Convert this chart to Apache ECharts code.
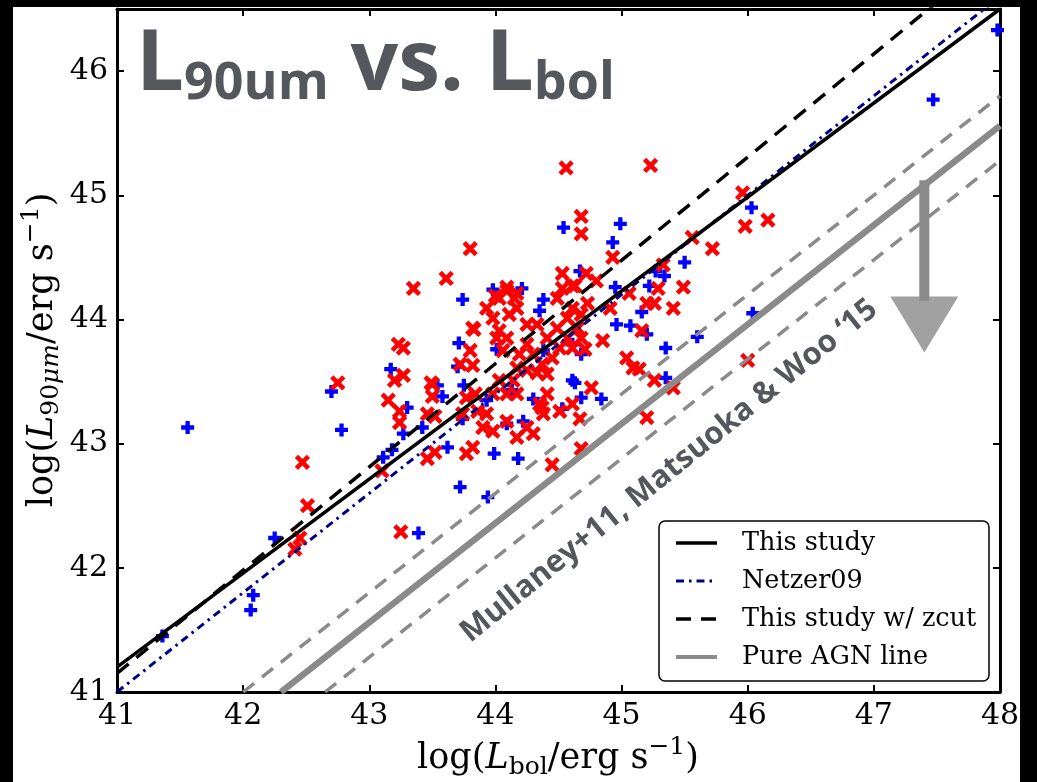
<!DOCTYPE html>
<html>
<head>
<meta charset="utf-8">
<script src="https://cdn.jsdelivr.net/npm/echarts@6/dist/echarts.min.js"></script>
<style>
  html, body { margin: 0; padding: 0; background: #ffffff; }
  #chart { width: 1037px; height: 782px; }
</style>
</head>
<body>
<div id="chart"></div>
<script>
// ---- data -------------------------------------------------------------
const xTicks = [41, 42, 43, 44, 45, 46, 47, 48];
const yTicks = [41, 42, 43, 44, 45, 46];

// sources marked with blue plus signs: [log Lbol, log L90um]
const bluePoints = [
  [41.36,41.45],[41.56,43.13],[42.06,41.66],[42.08,41.78],[42.25,42.24],[42.70,43.42],[42.78,43.11],
  [43.11,42.89],[43.17,43.60],[43.18,42.95],[43.27,43.08],[43.30,43.29],[43.39,42.28],[43.42,43.13],
  [43.54,43.47],[43.58,43.38],[43.62,42.97],[43.72,42.65],[43.94,42.57],[43.71,43.81],[43.70,43.62],
  [43.75,43.47],[43.74,43.20],[43.74,44.16],[43.98,44.24],[44.21,44.25],[44.38,44.16],[44.35,44.07],
  [43.99,42.92],[44.18,42.88],[44.22,43.18],[44.30,43.36],[44.53,43.28],[44.61,43.51],[44.38,43.75],
  [44.61,43.80],[44.01,43.76],[44.13,43.43],[43.93,43.35],[44.09,43.16],[44.54,44.74],[44.67,44.39],
  [44.99,44.77],[44.93,44.62],[44.95,44.26],[45.16,44.06],[45.22,44.27],[45.27,44.39],[45.34,44.35],
  [45.50,44.46],[44.96,43.96],[45.07,43.95],[45.20,43.88],[45.60,43.86],[45.35,43.77],[45.35,43.53],
  [44.63,43.49],[44.68,43.37],[44.84,43.36],[44.68,43.72],[46.03,44.90],[46.04,44.05],[47.47,45.77],
  [47.98,46.33]
];

// sources marked with red crosses: [log Lbol, log L90um]
const redPoints = [
  [42.41,42.15],[42.45,42.24],[42.47,42.85],[42.51,42.50],[42.75,43.49],[43.10,42.78],[43.15,43.35],
  [43.20,43.51],[43.23,43.80],[43.27,43.77],[43.27,43.55],[43.24,43.26],[43.24,43.17],[43.25,42.29],
  [43.35,44.25],[43.46,43.24],[43.46,42.88],[43.49,43.49],[43.50,43.38],[43.52,43.22],[43.52,42.93],
  [43.61,44.33],[43.80,44.57],[43.72,43.64],[43.82,43.63],[43.77,43.37],[43.84,43.40],[43.74,43.24],
  [43.93,43.24],[43.90,43.13],[43.98,43.10],[44.09,43.18],[44.17,43.05],[44.30,43.08],[44.25,43.13],
  [44.38,43.24],[44.35,43.32],[44.41,43.40],[44.41,43.56],[44.33,43.57],[44.25,43.59],[44.17,43.61],
  [44.14,43.51],[44.03,43.51],[44.09,43.40],[43.98,43.40],[44.17,43.40],[44.19,43.72],[44.30,43.72],
  [44.25,43.80],[43.77,42.92],[43.82,42.97],[43.86,43.26],[44.37,43.29],[44.37,43.64],[43.83,43.92],
  [43.80,43.75],[44.09,44.23],[44.15,44.17],[44.17,44.09],[44.03,44.17],[44.11,44.04],[43.93,44.09],
  [43.98,44.01],[43.82,43.93],[44.03,43.91],[44.01,43.85],[44.09,43.85],[44.06,43.75],[44.25,43.96],
  [44.33,43.96],[44.41,43.85],[44.45,43.69],[44.51,43.77],[44.57,43.85],[44.61,43.77],[44.71,43.76],
  [44.68,43.85],[44.65,43.93],[44.49,43.93],[44.57,44.01],[44.68,44.04],[44.61,44.09],[44.49,44.17],
  [44.53,44.25],[44.53,44.37],[44.72,44.37],[44.80,44.31],[44.85,43.83],[44.09,44.26],[44.17,44.21],
  [44.00,44.19],[44.61,44.27],[44.56,45.22],[44.68,44.83],[44.68,44.69],[44.93,44.50],[45.23,45.24],
  [45.56,44.66],[45.72,44.57],[45.96,45.02],[45.98,44.75],[46.16,44.80],[45.49,44.26],[45.41,44.09],
  [45.29,44.25],[45.26,44.13],[45.20,44.13],[45.33,44.44],[45.06,44.21],[44.91,44.09],[44.63,44.27],
  [44.73,44.13],[45.16,43.91],[45.04,43.69],[45.09,43.61],[45.14,43.60],[45.26,43.51],[45.41,43.45],
  [45.20,43.21],[46.00,43.67],[44.45,42.83],[44.68,42.96],[44.76,43.45],[44.61,43.32],[44.67,43.20],
  [44.51,43.26],[43.50,43.48]
];

// relations (end points of each straight line)
const thisStudyLine = [[41, 41.20], [48, 46.50]];
const netzerLine    = [[41, 41.00], [48, 46.60]];
const zcutLine      = [[41, 41.15], [48, 46.97]];
const pureAgnLine   = [[42.30, 41.00], [48, 45.56]];
const agnUpperLine  = [[42.00, 41.00], [48, 45.80]];
const agnLowerLine  = [[42.65, 41.00], [48, 45.28]];
const arrowShaft    = [[47.40, 45.12], [47.40, 44.15]];
const arrowHead     = [[47.40, 43.96]];

const legendLabels = ['This study', 'Netzer09', 'This study w/ zcut', 'Pure AGN line'];
const titleParts = ['L', '90um', ' vs. ', 'L', 'bol'];
const bandLabel = 'Mullaney+11, Matsuoka & Woo \u201815';

// ---- styling ----------------------------------------------------------
const SERIF = '"DejaVu Serif", serif';
const SANS = '"Open Sans", sans-serif';
const TITLE_GRAY = '#54575c';
const LINE_GRAY = '#8a8a8a';
const PLUS_PATH = 'path://M3.35,0H6.65V3.35H10V6.65H6.65V10H3.35V6.65H0V3.35H3.35Z';
const CROSS_PATH = 'path://M3.65,0H6.35V3.65H10V6.35H6.35V10H3.65V6.35H0V3.65H3.65Z';

const chart = echarts.init(document.getElementById('chart'), null, { renderer: 'canvas' });

// text measuring for hand-laid mathematical labels
const mctx = document.createElement('canvas').getContext('2d');
function measure(font, s) { mctx.font = font; return mctx.measureText(s).width; }
function midOffset(font) {
  mctx.font = font;
  mctx.textBaseline = 'alphabetic';
  const a = mctx.measureText('x').actualBoundingBoxAscent;
  mctx.textBaseline = 'middle';
  const b = mctx.measureText('x').actualBoundingBoxAscent;
  mctx.textBaseline = 'alphabetic';
  return a - b;
}
function fontOf(p, family) {
  return (p.italic ? 'italic ' : '') + (p.bold ? 'bold ' : '') + p.size + 'px ' + family;
}
// lays out pieces on a common baseline; returns a group
function mathGroup(pieces, family, opts) {
  let total = 0;
  const widths = pieces.map(p => { const w = measure(fontOf(p, family), p.t); total += w; return w; });
  let cx = opts.anchor === 'center' ? -total / 2 : 0;
  const children = pieces.map((p, i) => {
    const f = fontOf(p, family);
    const el = {
      type: 'text',
      x: cx,
      y: (p.dy || 0) - midOffset(f),
      style: { text: p.t, font: f, fill: opts.color, textAlign: 'left', textVerticalAlign: 'middle' },
      silent: true
    };
    cx += widths[i];
    return el;
  });
  return { type: 'group', x: opts.x, y: opts.y, rotation: opts.rotation || 0, children: children, z: 50 };
}

function lineSeries(data, color, width, type, z) {
  return {
    type: 'line', data: data, showSymbol: false, symbol: 'none', silent: true, z: z || 3,
    lineStyle: { color: color, width: width, type: type || 'solid', cap: 'butt' },
    clip: true, animation: false
  };
}

const axisCommon = {
  type: 'value', min: 41, scale: true,
  axisLine: { show: true, onZero: false, lineStyle: { color: '#000', width: 3 } },
  splitLine: { show: false },
  animation: false
};

const option = {
  animation: false,
  backgroundColor: '#ffffff',
  grid: { left: 117, right: 37, top: 9, bottom: 90, containLabel: false },
  xAxis: [
    Object.assign({}, axisCommon, {
      max: 48, interval: 1, position: 'bottom',
      axisTick: { show: true, inside: true, length: 7, lineStyle: { color: '#000', width: 2 }, customValues: xTicks },
      axisLabel: { show: true, margin: 9, color: '#000', fontFamily: SERIF, fontSize: 30, customValues: xTicks }
    }),
    Object.assign({}, axisCommon, {
      max: 48, interval: 1, position: 'top',
      axisTick: { show: true, inside: true, length: 7, lineStyle: { color: '#000', width: 2 }, customValues: xTicks },
      axisLabel: { show: false }
    })
  ],
  yAxis: [
    Object.assign({}, axisCommon, {
      max: 46.5, interval: 1, position: 'left',
      axisTick: { show: true, inside: true, length: 7, lineStyle: { color: '#000', width: 2 }, customValues: yTicks },
      axisLabel: { show: true, margin: 9, color: '#000', fontFamily: SERIF, fontSize: 30, customValues: yTicks }
    }),
    Object.assign({}, axisCommon, {
      max: 46.5, interval: 1, position: 'right',
      axisTick: { show: true, inside: true, length: 7, lineStyle: { color: '#000', width: 2 }, customValues: yTicks },
      axisLabel: { show: false }
    })
  ],
  series: [
    {
      type: 'scatter', name: 'blue', data: bluePoints, symbol: PLUS_PATH, symbolSize: 13,
      itemStyle: { color: '#0000ff', opacity: 1 }, z: 2, silent: true, animation: false
    },
    {
      type: 'scatter', name: 'red', data: redPoints, symbol: CROSS_PATH, symbolSize: 17, symbolRotate: 45,
      itemStyle: { color: '#ff0000', opacity: 1 }, z: 2, silent: true, animation: false
    },
    lineSeries(agnUpperLine, LINE_GRAY, 3.5, [14, 10]),
    lineSeries(agnLowerLine, LINE_GRAY, 3.5, [14, 10]),
    lineSeries(pureAgnLine, LINE_GRAY, 6.5),
    lineSeries(netzerLine, '#00008b', 3, [8, 5, 2.5, 5]),
    lineSeries(zcutLine, '#000000', 3.5, [15, 10]),
    lineSeries(thisStudyLine, '#000000', 3.5),
    lineSeries(arrowShaft, LINE_GRAY, 10),
    {
      type: 'scatter', data: arrowHead, symbol: 'triangle', symbolRotate: 180, symbolSize: [68, 56],
      itemStyle: { color: LINE_GRAY }, z: 3, silent: true, animation: false
    }
  ]
};
chart.setOption(option);

// ---- annotations -------------------------------------------------------
const graphics = [];

// dark frame strips round the figure
graphics.push({ type: 'rect', shape: { x: 0, y: 0, width: 13, height: 782 }, style: { fill: '#000' }, z: 60, silent: true });
graphics.push({ type: 'rect', shape: { x: 0, y: 0, width: 1037, height: 7 }, style: { fill: '#000' }, z: 60, silent: true });
graphics.push({ type: 'rect', shape: { x: 1020, y: 0, width: 17, height: 782 }, style: { fill: '#000' }, z: 60, silent: true });

// big title
graphics.push(mathGroup([
  { t: titleParts[0], size: 85, bold: true },
  { t: titleParts[1], size: 52, bold: true, dy: 9 },
  { t: titleParts[2], size: 84, bold: true },
  { t: titleParts[3], size: 85, bold: true },
  { t: titleParts[4], size: 52, bold: true, dy: 9 }
], SANS, { x: 136, y: 90, color: TITLE_GRAY }));

// rotated label along the AGN band
graphics.push({
  type: 'text', x: 669, y: 471, rotation: 39 * Math.PI / 180, z: 50, silent: true,
  style: { text: bandLabel, font: 'bold 31px ' + SANS, fill: TITLE_GRAY, textAlign: 'center', textVerticalAlign: 'middle' }
});

// axis titles
graphics.push(mathGroup([
  { t: 'log(', size: 35 },
  { t: 'L', size: 35, italic: true },
  { t: 'bol', size: 25, dy: 6 },
  { t: '/erg s', size: 35 },
  { t: '\u22121', size: 25, dy: -14 },
  { t: ')', size: 35 }
], SERIF, { x: 558, y: 768, anchor: 'center', color: '#000' }));

graphics.push(mathGroup([
  { t: 'log(', size: 35 },
  { t: 'L', size: 35, italic: true },
  { t: '90', size: 25, dy: 6 },
  { t: '\u03bcm', size: 25, italic: true, dy: 6 },
  { t: '/erg s', size: 35 },
  { t: '\u22121', size: 25, dy: -14 },
  { t: ')', size: 35 }
], SERIF, { x: 52, y: 350, anchor: 'center', rotation: Math.PI / 2, color: '#000' }));

// legend box
const LG = { x: 659, y: 521, w: 330, h: 160 };
graphics.push({
  type: 'rect', z: 70, silent: true,
  shape: { x: LG.x, y: LG.y, width: LG.w, height: LG.h, r: 6 },
  style: { fill: '#ffffff', stroke: '#000000', lineWidth: 1.5 }
});
const legendStyles = [
  { stroke: '#000000', lineWidth: 3.5, lineDash: null },
  { stroke: '#00008b', lineWidth: 3, lineDash: [8, 5, 2.5, 5] },
  { stroke: '#000000', lineWidth: 3.5, lineDash: [15, 10] },
  { stroke: LINE_GRAY, lineWidth: 4, lineDash: null }
];
const rowY = [543, 581, 619, 657];
legendLabels.forEach((label, i) => {
  graphics.push({
    type: 'line', z: 71, silent: true,
    shape: { x1: 676, y1: rowY[i], x2: 717, y2: rowY[i] },
    style: Object.assign({ lineCap: 'butt' }, legendStyles[i])
  });
  graphics.push({
    type: 'text', z: 71, silent: true, x: 742, y: rowY[i],
    style: { text: label, font: '25.5px ' + SERIF, fill: '#000', textAlign: 'left', textVerticalAlign: 'middle' }
  });
});

chart.setOption({ graphic: { elements: graphics } });
</script>
</body>
</html>
